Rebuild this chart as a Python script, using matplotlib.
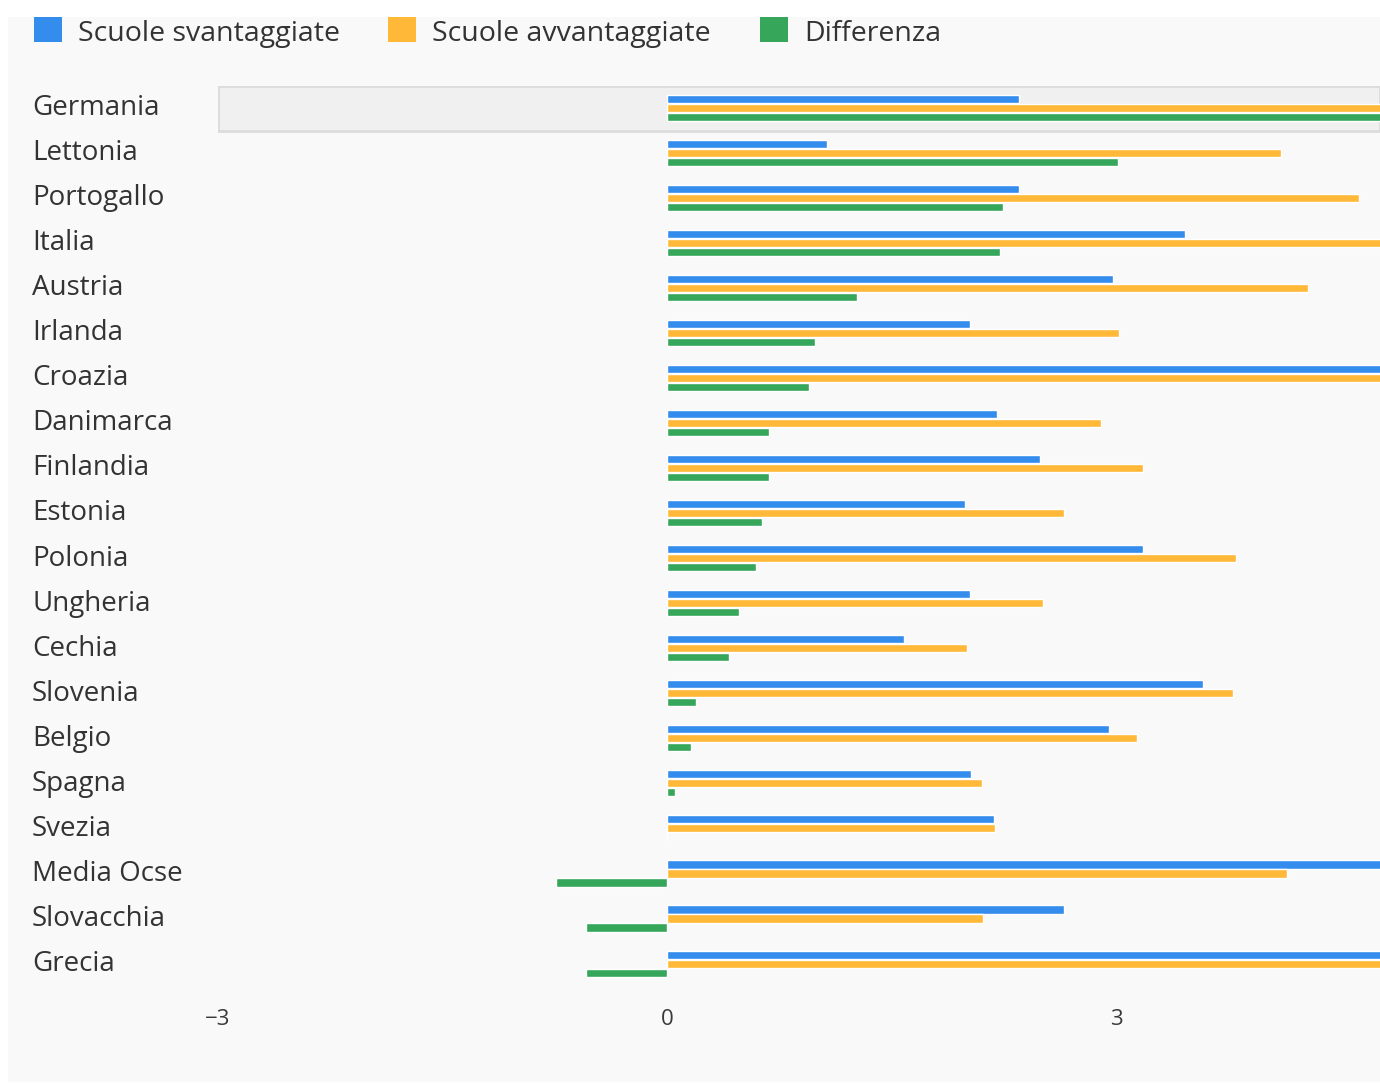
import numpy as np
import matplotlib.pyplot as plt
from matplotlib.patches import Rectangle
from matplotlib.transforms import ScaledTranslation
#--------------------------------------------------------------------------------------------------------------------
# Data
#--------------------------------------------------------------------------------------------------------------------
paesi = ['Germania', 'Lettonia', 'Portogallo', 'Italia', 'Austria', 'Irlanda', 'Croazia', 'Danimarca',
         'Finlandia', 'Estonia', 'Polonia', 'Ungheria', 'Cechia', 'Slovenia', 'Belgio', 'Spagna',
         'Svezia', 'Media Ocse', 'Slovacchia', 'Grecia']
svantaggiate = [2.35, 1.07, 2.35, 3.46, 2.98, 2.02, 4.90, 2.20, 2.49, 1.99,
                3.18, 2.02, 1.58, 3.58, 2.95, 2.03, 2.18, 4.88, 2.65, 5.50]
avvantaggiate = [7.40, 4.10, 4.62, 5.68, 4.28, 3.02, 5.85, 2.90, 3.18, 2.65,
                 3.80, 2.51, 2.00, 3.78, 3.14, 2.10, 2.19, 4.14, 2.11, 4.96]
differenza = [5.05, 3.01, 2.24, 2.22, 1.27, 0.99, 0.95, 0.68, 0.68, 0.63,
              0.59, 0.48, 0.41, 0.19, 0.16, 0.05, 0.0, -0.74, -0.54, -0.54]
serie = ['Scuole svantaggiate', 'Scuole avvantaggiate', 'Differenza']
colori = ['#348ded', '#ffb837', '#36a65a']
#--------------------------------------------------------------------------------------------------------------------
# Figure
#--------------------------------------------------------------------------------------------------------------------
plt.rcParams['font.family'] = ['Open Sans', 'DejaVu Sans']
W, H = 1380, 1084
fig = plt.figure(figsize=(W/100, H/100), dpi=100, facecolor='white')
fig.patches.append(Rectangle((8/W, 1-1082/H), 1, (1082-17)/H, transform=fig.transFigure,
                             facecolor='#f9f9f9', edgecolor='none', zorder=-5))
top, bottom = 86, 987
ax = fig.add_axes([218/W, 1-bottom/H, 1-218/W, (bottom-top)/H])
ax.set_facecolor('none')

y = np.arange(len(paesi))
h = 0.18
off = 0.2
for i, (vals, c) in enumerate(zip([svantaggiate, avvantaggiate, differenza], colori)):
    ax.barh(y + (i-1)*off - 0.02, vals, height=h, color=c, edgecolor='white', linewidth=1, zorder=3)

ax.axhspan(-0.5, 0.5, facecolor='#f0f0f0', edgecolor='#dcdcdc', linewidth=2, zorder=1)

ax.set_xlim(-3, 4.76)
ax.set_ylim(len(paesi)-0.5, -0.5)
ax.set_xticks([-3, 0, 3])
ax.set_yticks(y)
ax.set_yticklabels(paesi, ha='left', fontsize=20, color='#333333')
ax.tick_params(axis='y', length=0, pad=186*0.72)
ax.tick_params(axis='x', length=0, pad=16, labelsize=16, labelcolor='#3a3a3a')
shift = ScaledTranslation(0, 4/100, fig.dpi_scale_trans)
for lab in ax.get_yticklabels():
    lab.set_transform(lab.get_transform() + shift)
for s in ax.spines.values():
    s.set_visible(False)
#--------------------------------------------------------------------------------------------------------------------
# Legend
#--------------------------------------------------------------------------------------------------------------------
leg_x = [34, 388, 760]
for lx, c, s in zip(leg_x, colori, serie):
    fig.patches.append(Rectangle((lx/W, 1-42/H), 28/W, 25/H, transform=fig.transFigure,
                                 facecolor=c, edgecolor='none', zorder=2))
    fig.text((lx+44)/W, 1-34/H, s, fontsize=20.5, color='#333333', va='center', ha='left')

plt.savefig('out.png', dpi=100, facecolor='white')
